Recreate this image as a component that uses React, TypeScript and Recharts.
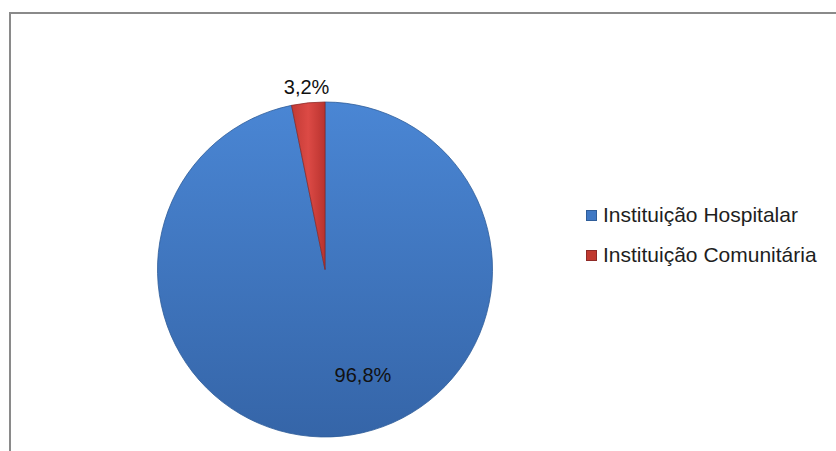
import React from "react";
import { PieChart, Pie, Cell, Legend } from "recharts";

const categories = ["Instituição Hospitalar", "Instituição Comunitária"];
const values = [96.8, 3.2];
const valueLabels = ["96,8%", "3,2%"];

const gradIds = ["gBlue", "gRed"];
const strokeCols = ["#2f5d99", "#8e2a27"];
const legendFill = ["#3f78c4", "#c0392f"];

const data = categories.map((name, i) => ({ name, value: values[i], label: valueLabels[i] }));

const RAD = Math.PI / 180;
const FONT = "'Liberation Sans', Arial, sans-serif";

const renderLabel = (props: any) => {
  const { cx, cy, midAngle, outerRadius, index } = props;
  let r: number;
  let a: number;
  if (index === 1) {
    r = outerRadius + 16;
    a = midAngle;
  } else {
    r = outerRadius * 0.67;
    a = midAngle + 14;
  }
  const x = cx + r * Math.cos(-a * RAD);
  const y = cy + r * Math.sin(-a * RAD);
  return (
    <text
      x={x}
      y={y}
      textAnchor="middle"
      dominantBaseline="central"
      fontFamily={FONT}
      fontSize={20}
      fill="#111"
    >
      {data[index].label}
    </text>
  );
};

const LegendContent = () => (
  <div style={{ fontFamily: FONT, fontSize: 21, color: "#1e1e1e" }}>
    {categories.map((c, i) => (
      <div key={c} style={{ display: "flex", alignItems: "center", height: 40 }}>
        <span
          style={{
            display: "inline-block",
            width: 9,
            height: 9,
            background: legendFill[i],
            border: `1px solid ${strokeCols[i]}`,
            marginRight: 6,
          }}
        />
        <span style={{ whiteSpace: "nowrap" }}>{c}</span>
      </div>
    ))}
  </div>
);

export default function App() {
  return (
    <div style={{ position: "absolute", left: 0, top: 0, width: 836, height: 451, background: "#fff", overflow: "hidden" }}>
      <div
        style={{
          position: "absolute",
          left: 9,
          top: 12,
          width: 900,
          height: 500,
          borderLeft: "2px solid #8a8a8a",
          borderTop: "2px solid #8a8a8a",
        }}
      />
      <PieChart width={836} height={451} style={{ position: "absolute", left: 0, top: 0 }}>
        <defs>
          <linearGradient id="gBlue" x1="0" y1="0" x2="0" y2="1">
            <stop offset="0%" stopColor="#4a86d4" />
            <stop offset="100%" stopColor="#3565a8" />
          </linearGradient>
          <linearGradient id="gRed" x1="0" y1="0" x2="1" y2="0">
            <stop offset="0%" stopColor="#c23a35" />
            <stop offset="50%" stopColor="#dc4a45" />
            <stop offset="100%" stopColor="#b9332f" />
          </linearGradient>
        </defs>
        <Pie
          data={data}
          dataKey="value"
          nameKey="name"
          cx={320}
          cy={264.5}
          outerRadius={167.5}
          startAngle={90}
          endAngle={-270}
          label={renderLabel}
          labelLine={false}
          isAnimationActive={false}
        >
          {data.map((d, i) => (
            <Cell key={d.name} fill={`url(#${gradIds[i]})`} stroke={strokeCols[i]} strokeWidth={0.8} />
          ))}
        </Pie>
        <Legend
          layout="vertical"
          content={<LegendContent />}
          wrapperStyle={{ position: "absolute", left: 586, top: 195, width: 250 }}
        />
      </PieChart>
    </div>
  );
}
